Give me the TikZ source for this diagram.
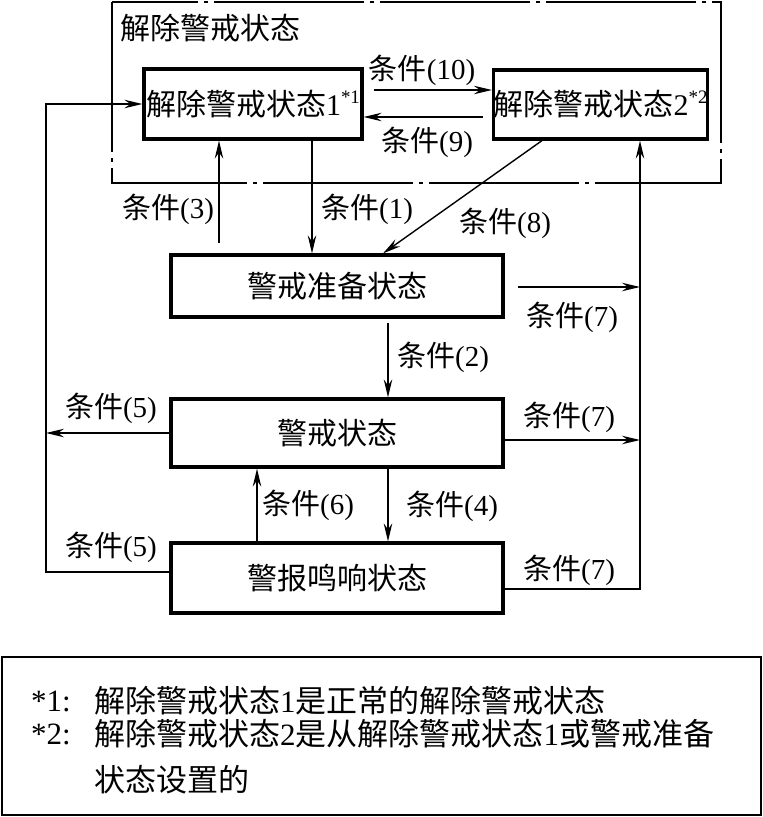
\documentclass[tikz,border=0pt]{standalone}
\usepackage{fontspec}
\setmainfont{Liberation Serif}
\newfontfamily\cjk{Noto Sans CJK SC}
\usetikzlibrary{arrows.meta}
\newcommand{\tj}[1]{{\cjk 条件}(#1)}

\tikzset{
  state/.style={draw, line width=3.2pt, inner sep=0pt, font=\fontsize{30}{36}\selectfont},
  lbl/.style={inner sep=0pt, font=\fontsize{29}{34}\selectfont},
  note/.style={inner sep=0pt, anchor=west, font=\fontsize{31}{36}\selectfont},
  conn/.style={line width=1.4pt, ->},
}

\begin{document}
\begin{tikzpicture}[x=1pt,y=-1pt,>={Stealth[length=18pt,width=8.5pt,inset=6pt]}]
\useasboundingbox (0,0) rectangle (763,817);
% release group
\draw [line width=1.8pt, dash pattern=on 150pt off 6pt on 4pt off 6pt] (112,2) rectangle (721,183);
\node[lbl, anchor=west, font=\fontsize{30}{36}\selectfont] (grp) at (120,28) {\cjk 解除警戒状态};
\node[state, minimum width=218pt, minimum height=70pt] (rel1) at (253,104) {{\cjk 解除警戒状态}1\raisebox{12pt}{\fontsize{19}{19}\selectfont *1}};
\node[state, minimum width=213pt, minimum height=69pt] (rel2) at (600.5,104.5) {{\cjk 解除警戒状态}2\raisebox{12pt}{\fontsize{19}{19}\selectfont *2}};
% main states
\node[state, minimum width=332pt, minimum height=62pt] (prep) at (337,286) {\cjk 警戒准备状态};
\node[state, minimum width=332pt, minimum height=68pt] (alert) at (337,433) {\cjk 警戒状态};
\node[state, minimum width=332pt, minimum height=70pt] (alarm) at (337,578) {\cjk 警报鸣响状态};

\coordinate (L) at (46,0);
\coordinate (R) at (640,0);
\coordinate (r10) at (0,90);
\coordinate (s9) at (483,117);
\coordinate (s3) at (219,243);
\coordinate (x1) at (312,0);
\coordinate (x8a) at (542,0);
\coordinate (x8b) at (383,0);
\coordinate (s7) at (518,287);
\coordinate (s2) at (388,323);
\coordinate (y7) at (0,440);
\coordinate (x6) at (257,0);
\coordinate (y5) at (0,572);
\coordinate (yb) at (0,589);

\draw[conn, shorten <=10pt] (rel1.east |- r10) -- (rel2.west |- r10);
\draw[conn] (s9) -- (rel1.east |- s9);
\draw[conn] (s3) -- (s3 |- rel1.south);
\draw[conn] (x1 |- rel1.south) -- (x1 |- prep.north);
\draw[conn] (x8a |- rel2.south) -- (x8b |- prep.north);
\draw[conn] (s7) -- (R |- s7);
\draw[conn] (s2) -- (s2 |- alert.north);
\draw[conn] (alert.east |- y7) -- (R |- y7);
\draw[conn] (s2 |- alert.south) -- (s2 |- alarm.north);
\draw[conn] (x6 |- alarm.north) -- (x6 |- alert.south);
\draw[conn] (alert.west) -- (L |- alert.west);
\draw[conn] (alarm.west |- y5) -- (L |- y5) -- (L |- rel1.west) -- (rel1.west);
\draw[conn] (alarm.east |- yb) -- (R |- yb) -- (R |- rel2.south);

\node[lbl] (t10) at (422,70) {\tj{10}};
\node[lbl] (t9) at (427,142) {\tj{9}};
\node[lbl] (t3) at (168,209) {\tj{3}};
\node[lbl] (t1) at (367,209) {\tj{1}};
\node[lbl] (t8) at (505,223) {\tj{8}};
\node[lbl] (t7a) at (572,317) {\tj{7}};
\node[lbl] (t2) at (443,357) {\tj{2}};
\node[lbl] (t5a) at (111,408) {\tj{5}};
\node[lbl] (t7b) at (569,417) {\tj{7}};
\node[lbl] (t6) at (308,505) {\tj{6}};
\node[lbl] (t4) at (452,506) {\tj{4}};
\node[lbl] (t5b) at (111,547) {\tj{5}};
\node[lbl] (t7c) at (569,570) {\tj{7}};

% notes
\draw [line width=1.8pt] (2,657) rectangle (761,815);
\node[note] (k1) at (31,701) {*1:};
\node[note] (n1) at (94,701) {{\cjk 解除警戒状态}1{\cjk 是正常的解除警戒状态}};
\node[note] (k2) at (31,734) {*2:};
\node[note] (n2) at (94,734) {{\cjk 解除警戒状态}2{\cjk 是从解除警戒状态}1{\cjk 或警戒准备}};
\node[note] (n3) at (94,780) {\cjk 状态设置的};
\end{tikzpicture}
\end{document}
